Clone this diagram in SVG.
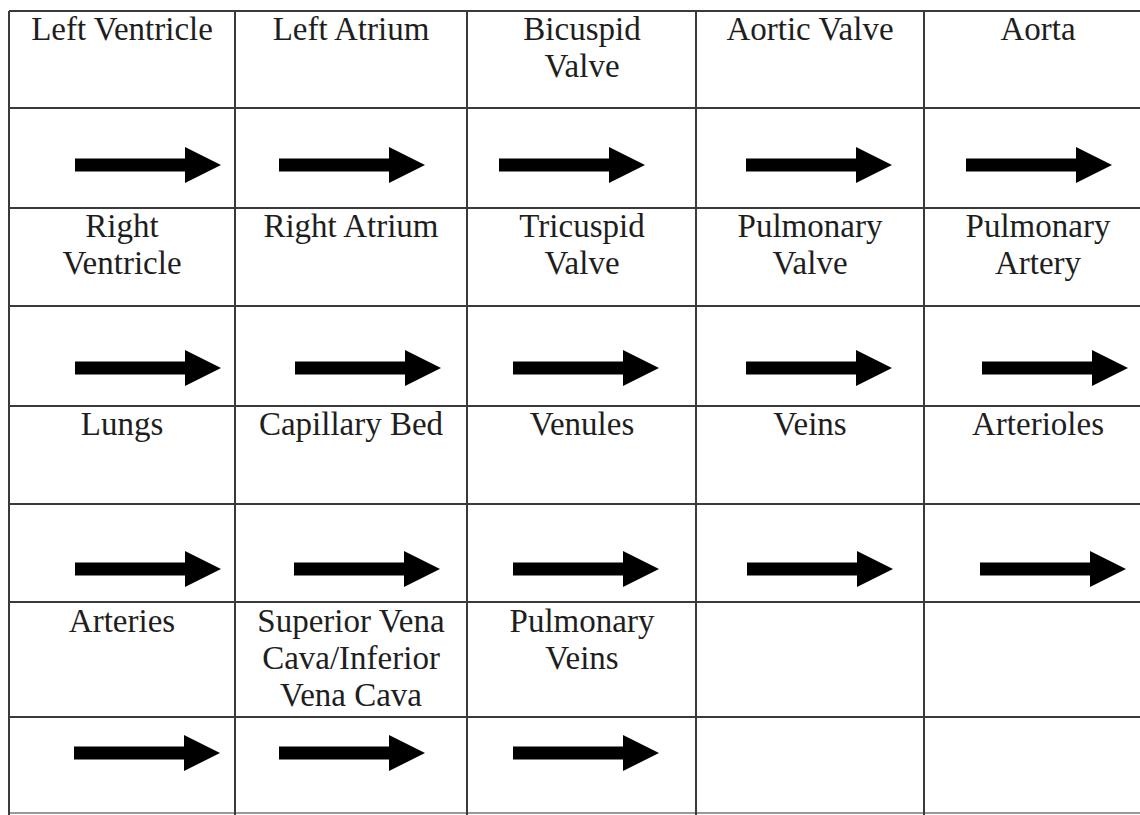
<svg xmlns="http://www.w3.org/2000/svg" xmlns:xlink="http://www.w3.org/1999/xlink" width="1140" height="815" viewBox="0 0 1140 815">
<style>
.grid{stroke:#3a3a3a;stroke-width:2;fill:none}
.lbl{font-family:"Liberation Serif","Times New Roman",serif;font-size:33px;fill:#1e1e1e;text-anchor:middle}
.arr{fill:#000}
</style>
<defs>
<path id="arrow" class="arr" d="M0,-6.5 H110 V-18 L146,0 L110,18 V6.5 H0 Z"/>
</defs>
<rect width="1140" height="815" fill="#fff"/>
<g id="grid" class="grid">
<line x1="9" y1="11" x2="1140" y2="11"/>
<line x1="9" y1="108" x2="1140" y2="108"/>
<line x1="9" y1="208" x2="1140" y2="208"/>
<line x1="9" y1="306" x2="1140" y2="306"/>
<line x1="9" y1="406" x2="1140" y2="406"/>
<line x1="9" y1="504" x2="1140" y2="504"/>
<line x1="9" y1="602" x2="1140" y2="602"/>
<line x1="9" y1="717" x2="1140" y2="717"/>
<line x1="9" y1="813" x2="1140" y2="813" stroke="#999"/>
<line x1="9" y1="11" x2="9" y2="815"/>
<line x1="235" y1="11" x2="235" y2="815"/>
<line x1="467" y1="11" x2="467" y2="815"/>
<line x1="696" y1="11" x2="696" y2="815"/>
<line x1="924" y1="11" x2="924" y2="815"/>
</g>
<g id="n-left-ventricle"><text class="lbl" x="122" y="40">Left Ventricle</text></g>
<g id="n-left-atrium"><text class="lbl" x="351" y="40">Left Atrium</text></g>
<g id="n-bicuspid-valve"><text class="lbl" x="582" y="40">Bicuspid</text><text class="lbl" x="582" y="77">Valve</text></g>
<g id="n-aortic-valve"><text class="lbl" x="810" y="40">Aortic Valve</text></g>
<g id="n-aorta"><text class="lbl" x="1038" y="40">Aorta</text></g>
<g id="n-right-ventricle"><text class="lbl" x="122" y="237">Right</text><text class="lbl" x="122" y="274">Ventricle</text></g>
<g id="n-right-atrium"><text class="lbl" x="351" y="237">Right Atrium</text></g>
<g id="n-tricuspid-valve"><text class="lbl" x="582" y="237">Tricuspid</text><text class="lbl" x="582" y="274">Valve</text></g>
<g id="n-pulmonary-valve"><text class="lbl" x="810" y="237">Pulmonary</text><text class="lbl" x="810" y="274">Valve</text></g>
<g id="n-pulmonary-artery"><text class="lbl" x="1038" y="237">Pulmonary</text><text class="lbl" x="1038" y="274">Artery</text></g>
<g id="n-lungs"><text class="lbl" x="122" y="435">Lungs</text></g>
<g id="n-capillary-bed"><text class="lbl" x="351" y="435">Capillary Bed</text></g>
<g id="n-venules"><text class="lbl" x="582" y="435">Venules</text></g>
<g id="n-veins"><text class="lbl" x="810" y="435">Veins</text></g>
<g id="n-arterioles"><text class="lbl" x="1038" y="435">Arterioles</text></g>
<g id="n-arteries"><text class="lbl" x="122" y="632">Arteries</text></g>
<g id="n-vena-cava"><text class="lbl" x="351" y="632">Superior Vena</text><text class="lbl" x="351" y="669">Cava/Inferior</text><text class="lbl" x="351" y="706">Vena Cava</text></g>
<g id="n-pulmonary-veins"><text class="lbl" x="582" y="632">Pulmonary</text><text class="lbl" x="582" y="669">Veins</text></g>
<g id="connectors">
<use xlink:href="#arrow" x="75" y="165"/>
<use xlink:href="#arrow" x="279" y="165"/>
<use xlink:href="#arrow" x="499" y="165"/>
<use xlink:href="#arrow" x="746" y="165"/>
<use xlink:href="#arrow" x="966" y="165"/>
<use xlink:href="#arrow" x="75" y="368"/>
<use xlink:href="#arrow" x="295" y="368"/>
<use xlink:href="#arrow" x="513" y="368"/>
<use xlink:href="#arrow" x="746" y="368"/>
<use xlink:href="#arrow" x="982" y="368"/>
<use xlink:href="#arrow" x="75" y="569"/>
<use xlink:href="#arrow" x="294" y="569"/>
<use xlink:href="#arrow" x="513" y="569"/>
<use xlink:href="#arrow" x="747" y="569"/>
<use xlink:href="#arrow" x="980" y="569"/>
<use xlink:href="#arrow" x="74" y="753"/>
<use xlink:href="#arrow" x="279" y="753"/>
<use xlink:href="#arrow" x="513" y="753"/>
</g>
</svg>
